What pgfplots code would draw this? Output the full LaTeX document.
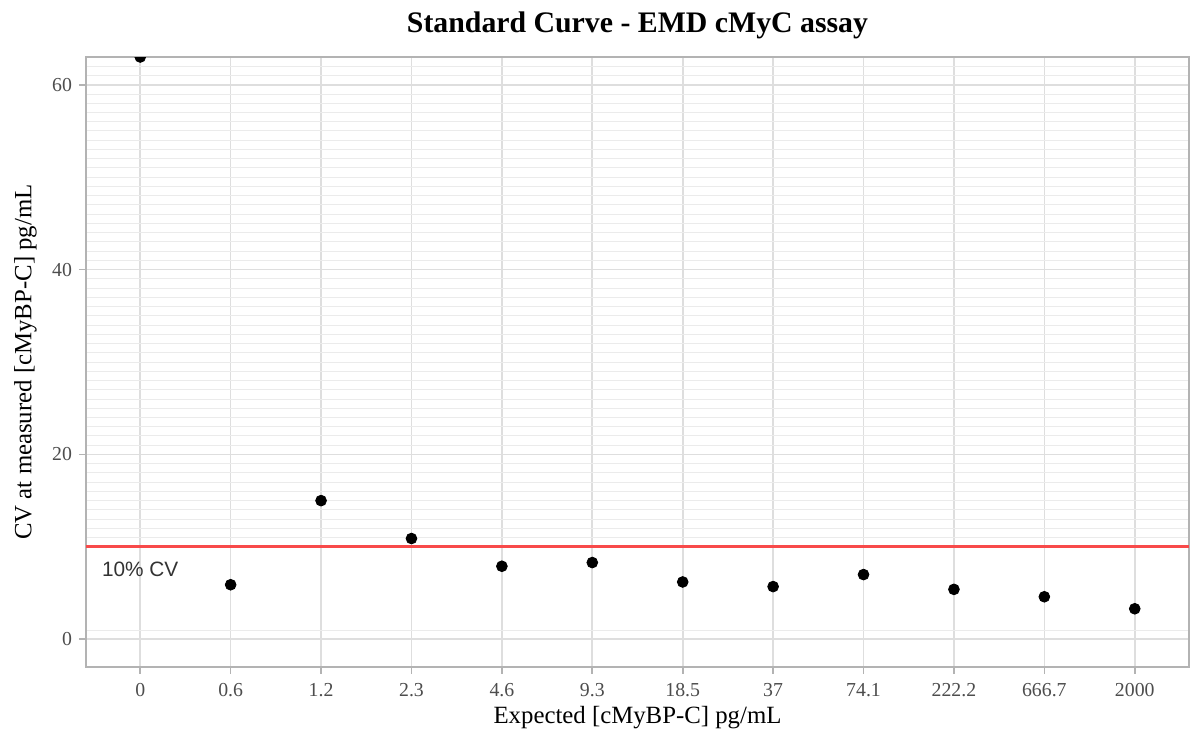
\documentclass[border=0pt]{standalone}
\usepackage{fontspec}
\setmainfont{Liberation Serif}
\newfontfamily\sansf{Liberation Sans}
\usepackage{pgfplots}
\pgfplotsset{compat=1.18}
\definecolor{gridmaj}{HTML}{DEDEDE}
\definecolor{gridmin}{HTML}{EBEBEB}
\definecolor{bordercol}{HTML}{B3B3B3}
\definecolor{ticktext}{HTML}{4D4D4D}
\definecolor{cvred}{HTML}{F84A4A}
\begin{document}
\begin{tikzpicture}
\useasboundingbox (-43pt,-35.5pt) rectangle (552pt,333.5pt);
\begin{axis}[
  at={(0,0)}, anchor=south west,
  scale only axis, width=551.5pt, height=305pt,
  xmin=-0.6, xmax=11.6, ymin=-3, ymax=63,
  xtick={0,...,11},
  xticklabels={0,0.6,1.2,2.3,4.6,9.3,18.5,37,74.1,222.2,666.7,2000},
  ytick={0,20,40,60},
  minor ytick={1,11,12,...,19,21,22,...,39,41,42,...,59,61,62},
  grid=both,
  major grid style={gridmaj, line width=0.8pt},
  minor grid style={gridmin, line width=0.45pt},
  axis line style={bordercol, line width=1pt},
  tick style={bordercol, line width=0.8pt},
  major tick length=3.5pt, minor tick length=0pt,
  tick align=outside, xtick pos=left, ytick pos=left,
  ticklabel style={font=\fontsize{9.9}{11}\selectfont, text=ticktext},
  xticklabel style={yshift=-1.2pt},
  /pgf/number format/assume math mode=true,
  xlabel={Expected [cMyBP-C] pg/mL},
  ylabel={CV at measured [cMyBP-C] pg/mL},
  xlabel style={font=\fontsize{12.4}{14}\selectfont, at={(axis description cs:0.5,-0.0836)}, anchor=center},
  ylabel style={font=\fontsize{12.4}{14}\selectfont, at={(axis description cs:-0.055,0.5)}, anchor=center},
  clip=true, clip marker paths=true,
]
\addplot[cvred, line width=1.6pt] coordinates {(-0.6,10) (11.6,10)};
\addplot[only marks, mark=*, mark size=2.7pt, black] coordinates {
(0,63) (1,5.9) (2,15.0) (3,10.9) (4,7.9) (5,8.3) (6,6.2) (7,5.7) (8,7.0) (9,5.4) (10,4.6) (11,3.3)};
\node[font=\sansf\fontsize{10.4}{12}\selectfont, text=black!80] at (axis cs:0,7.6) {10\% CV};
\end{axis}
\node[font=\bfseries\fontsize{14.9}{17}\selectfont, anchor=center] at (275.75pt,321pt) {Standard Curve - EMD cMyC assay};
\end{tikzpicture}
\end{document}
